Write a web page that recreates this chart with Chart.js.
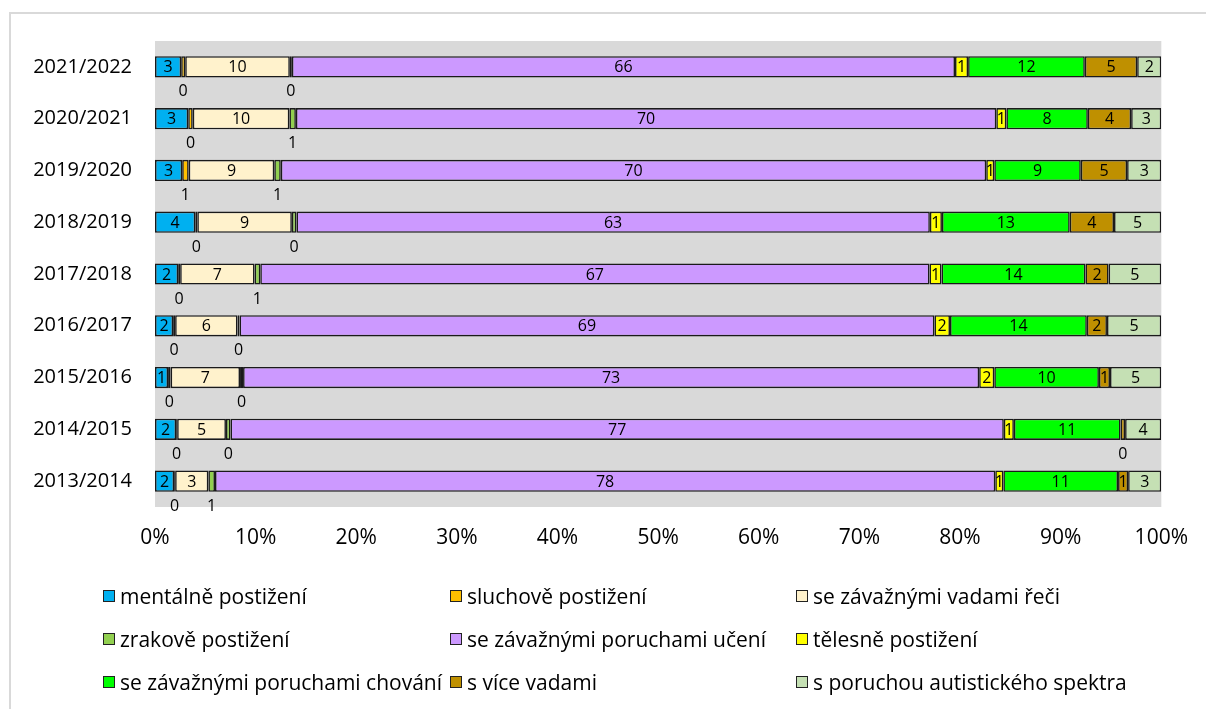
<!DOCTYPE html>
<html>
<head>
<meta charset="utf-8">
<script src="https://cdn.jsdelivr.net/npm/chart.js@4.4.0/dist/chart.umd.min.js"></script>
<style>
  body { margin: 0; background: #fff; overflow: hidden; }
  #wrap { position: relative; width: 1206px; height: 709px; }
  #frame { position: absolute; left: 9px; top: 12px; width: 1300px; height: 800px; border: 2px solid #d9d9d9; box-sizing: border-box; }
  #c { position: absolute; left: 0; top: 0; }
  .leg { position: absolute; font-family: "Open Sans", sans-serif; font-size: 21px; color: #000; white-space: nowrap; line-height: 24px; display: flex; align-items: center; }
  .leg i { display: inline-block; width: 10px; height: 10px; border: 1px solid #222; margin-right: 5px; }
</style>
</head>
<body>
<div id="wrap">
  <div id="frame"></div>
  <canvas id="c" width="1206" height="709"></canvas>
  <div id="legend"></div>
</div>
<script>
// years, top to bottom
const years = ["2021/2022", "2020/2021", "2019/2020", "2018/2019", "2017/2018", "2016/2017", "2015/2016", "2014/2015", "2013/2014"];

const seriesNames = [
    "mentálně postižení",
    "sluchově postižení",
    "se závažnými vadami řeči",
    "zrakově postižení",
    "se závažnými poruchami učení",
    "tělesně postižení",
    "se závažnými poruchami chování",
    "s více vadami",
    "s poruchou autistického spektra"
];

const seriesColors = ["#00B0F0", "#FFC000", "#FFF2CC", "#92D050", "#CC99FF", "#FFFF00", "#00FF00", "#BF9000", "#C5E0B4"];

// shares in % per year
const mentalne = [2.6, 3.3, 2.7, 4.0, 2.3, 1.8, 1.3, 2.1, 1.9];
const sluchove = [0.4, 0.45, 0.65, 0.2, 0.2, 0.2, 0.25, 0.1, 0.1];
const reci = [10.4, 9.6, 8.5, 9.4, 7.4, 6.2, 6.9, 4.85, 3.3];
const zrakove = [0.2, 0.65, 0.65, 0.45, 0.56, 0.2, 0.3, 0.45, 0.66];
const uceni = [65.9, 69.6, 70.1, 62.95, 66.5, 69.05, 73.15, 76.85, 77.54];
const telesne = [1.3, 1.0, 0.8, 1.2, 1.2, 1.55, 1.5, 1.0, 0.8];
const chovani = [11.6, 8.1, 8.6, 12.7, 14.3, 13.6, 10.4, 10.6, 11.4];
const viceVad = [5.2, 4.3, 4.6, 4.4, 2.3, 2.0, 1.1, 0.45, 1.0];
const autismus = [2.4, 3.0, 3.4, 4.7, 5.24, 5.4, 5.1, 3.6, 3.3];

const xTicks = [0, 10, 20, 30, 40, 50, 60, 70, 80, 90, 100];

const allSeries = [mentalne, sluchove, reci, zrakove, uceni, telesne, chovani, viceVad, autismus];

const datasets = [];
for (let i = 0; i < allSeries.length; i++) {
    datasets.push({
        label: seriesNames[i],
        data: allSeries[i],
        backgroundColor: seriesColors[i],
        borderColor: '#1a1a1a',
        borderWidth: 1.6,
        borderSkipped: false,
        categoryPercentage: 1,
        barPercentage: 0.41
    });
}

// grey plot area
const plotBg = {
    id: 'plotBg',
    beforeDraw(chart) {
        const a = chart.chartArea;
        const ctx = chart.ctx;
        ctx.save();
        ctx.fillStyle = '#d9d9d9';
        ctx.fillRect(a.left, a.top, a.right - a.left, a.bottom - a.top);
        ctx.restore();
    }
};

// rounded value labels, tiny segments get the label under the bar
const valueLabels = {
    id: 'valueLabels',
    afterDatasetsDraw(chart) {
        const ctx = chart.ctx;
        ctx.save();
        ctx.font = '16px "Open Sans", sans-serif';
        ctx.fillStyle = '#000';
        ctx.textAlign = 'center';
        ctx.textBaseline = 'middle';
        chart.data.datasets.forEach((ds, i) => {
            const meta = chart.getDatasetMeta(i);
            meta.data.forEach((bar, j) => {
                const v = ds.data[j];
                const p = bar.getProps(['x', 'y', 'base'], true);
                const cx = (p.x + p.base) / 2;
                const cy = v < 0.75 ? p.y + 25 : p.y + 1;
                ctx.fillText(String(Math.round(v)), cx, cy);
            });
        });
        ctx.restore();
    }
};

const ctx = document.getElementById('c').getContext('2d');
const chart = new Chart(ctx, {
    type: 'bar',
    data: { labels: years, datasets: datasets },
    options: {
        indexAxis: 'y',
        responsive: false,
        animation: false,
        layout: { padding: { left: 0, right: 41, top: 41, bottom: 152 } },
        plugins: {
            legend: { display: false },
            tooltip: { enabled: false }
        },
        scales: {
            x: {
                stacked: true,
                min: 0,
                max: 100,
                afterBuildTicks: (scale) => { scale.ticks = xTicks.map(v => ({ value: v })); },
                afterFit: (scale) => { scale.height = 50; },
                grid: { display: false, drawTicks: false },
                border: { display: false },
                ticks: {
                    padding: 18,
                    color: '#000',
                    font: { family: '"Open Sans", sans-serif', size: 21 },
                    callback: (v) => v + '%'
                }
            },
            y: {
                stacked: true,
                afterFit: (scale) => { scale.width = 155; },
                grid: { display: false, drawTicks: false },
                border: { display: false },
                ticks: {
                    padding: 23,
                    color: '#000',
                    font: { family: '"Open Sans", sans-serif', size: 20 }
                }
            }
        }
    },
    plugins: [plotBg, valueLabels]
});

// legend in three columns like the original
const legCols = [103, 450, 796];
const legRows = [584, 627, 670];
const legend = document.getElementById('legend');
for (let i = 0; i < seriesNames.length; i++) {
    const el = document.createElement('div');
    el.className = 'leg';
    el.style.left = legCols[i % 3] + 'px';
    el.style.top = legRows[Math.floor(i / 3)] + 'px';
    el.innerHTML = '<i style="background:' + seriesColors[i] + '"></i>' + seriesNames[i];
    legend.appendChild(el);
}
</script>
</body>
</html>
